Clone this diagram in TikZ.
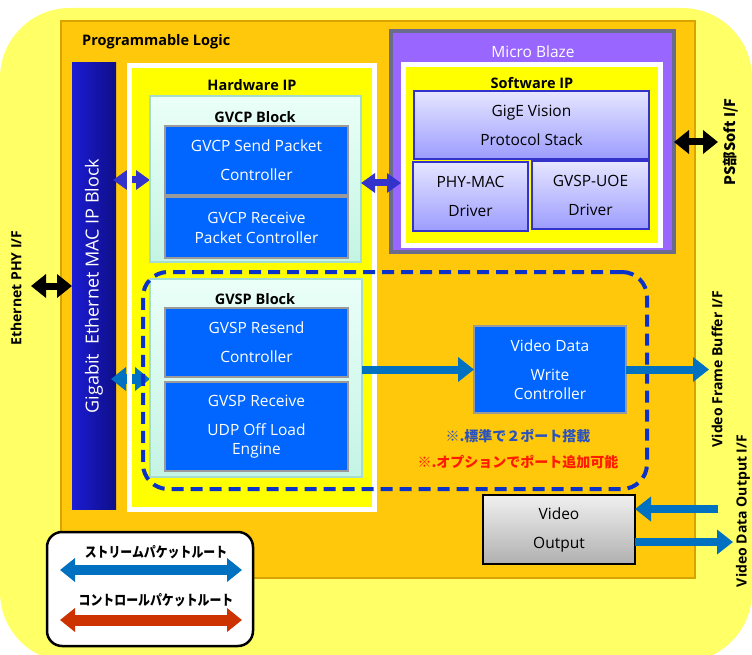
\documentclass[tikz,border=0pt]{standalone}
\usepackage{fontspec}
\setmainfont{Open Sans}
\newfontfamily\jpfont{Noto Sans CJK JP}
\usetikzlibrary{arrows.meta,calc}
\definecolor{outery}{HTML}{FFFF66}
\definecolor{plfill}{HTML}{FFC80A}
\definecolor{pledge}{HTML}{D9A300}
\definecolor{macL}{HTML}{1C1CD4}
\definecolor{macR}{HTML}{0E0E88}
\definecolor{hwyel}{HTML}{FFFF00}
\definecolor{mintT}{HTML}{EAFFF8}
\definecolor{mintB}{HTML}{C4F4E4}
\definecolor{mintD}{HTML}{A6DCCB}
\definecolor{blkfill}{HTML}{0066FF}
\definecolor{blkD}{HTML}{9A9A9A}
\definecolor{mbfill}{HTML}{9966FF}
\definecolor{mbD}{HTML}{6B6B8E}
\definecolor{lavT}{HTML}{E6E6FF}
\definecolor{lavB}{HTML}{9C9CFF}
\definecolor{lavD}{HTML}{3333CC}
\definecolor{streamb}{HTML}{0070C0}
\definecolor{ctrlb}{HTML}{3333CC}
\definecolor{redarr}{HTML}{CC3300}
\definecolor{dashb}{HTML}{0A32C8}
\definecolor{stdblue}{HTML}{2A52BE}
\definecolor{optred}{HTML}{FF1A00}
\definecolor{voT}{HTML}{F0F0F0}
\definecolor{voB}{HTML}{B0B0B0}
\tikzset{
  box/.style={rectangle, inner sep=0pt, outer sep=0pt, anchor=north west},
  lbl/.style={inner sep=0pt, font=\fontsize{14.5}{17}\selectfont\bfseries},
  wtxt/.style={text=white, align=center, font=\fontsize{15.5}{29}\selectfont},
  btxt/.style={text=black, align=center, font=\fontsize{15.5}{29}\selectfont},
  bluebox/.style={box, fill=blkfill, draw=blkD, line width=2pt},
  mintbox/.style={box, top color=mintT, bottom color=mintB, draw=mintD, line width=1.5pt},
  lavbox/.style={box, top color=lavT, bottom color=lavB, draw=lavD, line width=2pt},
  sidelbl/.style={rotate=90, inner sep=0pt, font=\fontsize{14}{16}\selectfont\bfseries},
  darrow/.style={line width=7pt, {Triangle[length=15pt,width=23pt]}-{Triangle[length=15pt,width=23pt]}},
  sarrow/.style={draw=streamb, line width=8pt, -{Triangle[length=16pt,width=24pt]}},
  ctrl/.style={draw=ctrlb, line width=7pt, {Triangle[length=14pt,width=19pt]}-{Triangle[length=14pt,width=19pt]}},
}
\begin{document}
\begin{tikzpicture}[x=1pt,y=-1pt]
\useasboundingbox (0,0) rectangle (752,655);
% outer area
\fill[outery, rounded corners=70pt] (0,8) rectangle (752,662);
% programmable logic
\node[box, fill=plfill, draw=pledge, line width=2pt, minimum width=634pt, minimum height=557pt] (pl) at (61,21) {};
\node[lbl, anchor=west] (pltxt) at (82,42) {Programmable Logic};
% MAC block
\node[box, left color=macL, right color=macR, minimum width=44pt, minimum height=446pt] (mac) at (72,63) {};
\node[rotate=90, text=white, inner sep=0pt, font=\fontsize{18}{20}\selectfont] (mactxt) at (mac.center) {Gigabit\ \ Ethernet MAC IP Block};
% Hardware IP fill
\node[box, fill=hwyel, minimum width=240pt, minimum height=439pt] (hw) at (132,68) {};
% left arrows (under white frame)
\coordinate (gvcpL) at (150,180);
\coordinate (gvspL) at (150,379);
\draw[ctrl, shorten <=-3pt] (mac.east |- gvcpL) -- (gvcpL);
\draw[streamb, darrow, line width=10pt, shorten <=-5pt] (mac.east |- gvspL) -- (gvspL);
% white frame
\draw[white, line width=5pt] ($(hw.north west)+(-2.5,-2.5)$) rectangle ($(hw.south east)+(2.5,2.5)$);
\node[lbl] (hwtxt) at (252,85) {Hardware IP};
% GVCP
\node[mintbox, minimum width=211pt, minimum height=166pt] (gvcp) at (150,96) {};
\node[lbl] (gvcptxt) at (255,117) {GVCP Block};
\node[bluebox, minimum width=183pt, minimum height=69pt] (gsend) at (165,126) {};
\node[wtxt] (gsendt) at (gsend.center) {GVCP Send Packet\\Controller};
\node[bluebox, minimum width=183pt, minimum height=61pt] (grecv) at (165,197) {};
\node[wtxt, font=\fontsize{15.5}{20}\selectfont] (grecvt) at (grecv.center) {GVCP Receive\\Packet Controller};
% GVSP
\node[mintbox, minimum width=212pt, minimum height=198pt] (gvsp) at (150,279) {};
\node[lbl] (gvsptxt) at (255,299) {GVSP Block};
\node[bluebox, minimum width=183pt, minimum height=69pt] (gres) at (165,308) {};
\node[wtxt] (grest) at (gres.center) {GVSP Resend\\Controller};
\node[bluebox, minimum width=183pt, minimum height=89pt] (gsrecv) at (165,382) {};
\node[wtxt, font=\fontsize{15.5}{19}\selectfont] (gsrecvt) at (gsrecv.center) {GVSP Receive\\[10pt]UDP Off Load\\Engine};
% Micro Blaze
\node[box, fill=mbfill, draw=mbD, line width=4pt, minimum width=283pt, minimum height=221pt] (mb) at (391,31) {};
\node[text=white, inner sep=0pt, font=\fontsize{15.5}{17}\selectfont] (mbtxt) at (533,52) {Micro Blaze};
\node[box, fill=hwyel, draw=white, line width=5pt, minimum width=257pt, minimum height=181pt] (swip) at (403.5,64.5) {};
\node[lbl] (swiptxt) at (532,83) {Software IP};
\node[lavbox, minimum width=235pt, minimum height=68pt] (gige) at (414,91) {};
\node[btxt] (giget) at (gige.center) {GigE Vision\\Protocol Stack};
\node[lavbox, minimum width=115pt, minimum height=69pt] (phymac) at (413,162) {};
\node[btxt] (phymact) at (phymac.center) {PHY-MAC\\Driver};
\node[lavbox, minimum width=117pt, minimum height=68pt] (uoe) at (532,161) {};
\node[btxt] (uoet) at (uoe.center) {GVSP-UOE\\Driver};
% Video Data Write
\node[bluebox, minimum width=152pt, minimum height=87pt] (vdw) at (474,326) {};
\node[wtxt, font=\fontsize{15.5}{19}\selectfont] (vdwt) at (vdw.center) {Video Data\\[10pt]Write\\Controller};
% notes
\node[inner sep=0pt, text=stdblue, font=\jpfont\fontsize{14}{16}\selectfont\bfseries] (std) at (518,436) {※.標準で２ポート搭載};
\node[inner sep=0pt, text=optred, font=\jpfont\fontsize{14}{16}\selectfont\bfseries] (opt) at (518,462) {※.オプションでポート追加可能};
% dashed port group
\node[box, draw=dashb, line width=4pt, dash pattern=on 12pt off 7pt, rounded corners=25pt, minimum width=504pt, minimum height=217pt] (ports) at (143,272) {};
% Video output
\node[box, top color=voT, bottom color=voB, draw=black, line width=2pt, minimum width=152pt, minimum height=69pt] (vout) at (483,495) {};
\node[btxt] (voutt) at (vout.center) {Video\\Output};
% side labels
\node[sidelbl] (phyl) at (16,288) {Ethernet PHY I/F};
\node[sidelbl, font=\jpfont\fontsize{14.5}{16}\selectfont\bfseries] (psl) at (731,142) {PS部Soft I/F};
\node[sidelbl] (vfbl) at (717,369) {Video Frame Buffer I/F};
\node[sidelbl] (vdol) at (743,511) {Video Data Output I/F};
% connectors
\coordinate (phy) at (31,286);
\draw[black, darrow] (phy) -- (mac.west |- phy);
\coordinate (ps) at (718,142);
\draw[black, darrow] (mb.east |- ps) -- (ps);
\draw[ctrl, shorten >=2.5pt] ($(gvcp.east)+(0,4)$) -- ($(swip.west |- gvcp.east)+(0,4)$);
\draw[sarrow] (gvsp.east |- vdw.west) -- (vdw.west);
\coordinate (vfb) at (709,369.5);
\draw[sarrow] (vdw.east) -- (vfb);
\coordinate (voin) at (718,509);
\draw[sarrow] (voin) -- (vout.east |- voin);
\coordinate (voout) at (733,542);
\draw[sarrow] (vout.east |- voout) -- (voout);
% legend
\node[box, fill=white, draw=black, line width=2.5pt, rounded corners=15pt, minimum width=206pt, minimum height=114pt] (legend) at (47,532) {};
\node[inner sep=0pt, font=\jpfont\fontsize{14}{16}\selectfont\bfseries, xscale=0.85] (lg1) at (156,552) {ストリームパケットルート};
\node[inner sep=0pt, font=\jpfont\fontsize{14}{16}\selectfont\bfseries, xscale=0.85] (lg2) at (156,600) {コントロールパケットルート};
\coordinate (la1) at (60,570);
\coordinate (lb1) at (242,570);
\coordinate (la2) at (60,620);
\coordinate (lb2) at (242,620);
\draw[streamb, darrow, line width=10pt] (la1) -- (lb1);
\draw[redarr, darrow, line width=11pt] (la2) -- (lb2);
\end{tikzpicture}
\end{document}
